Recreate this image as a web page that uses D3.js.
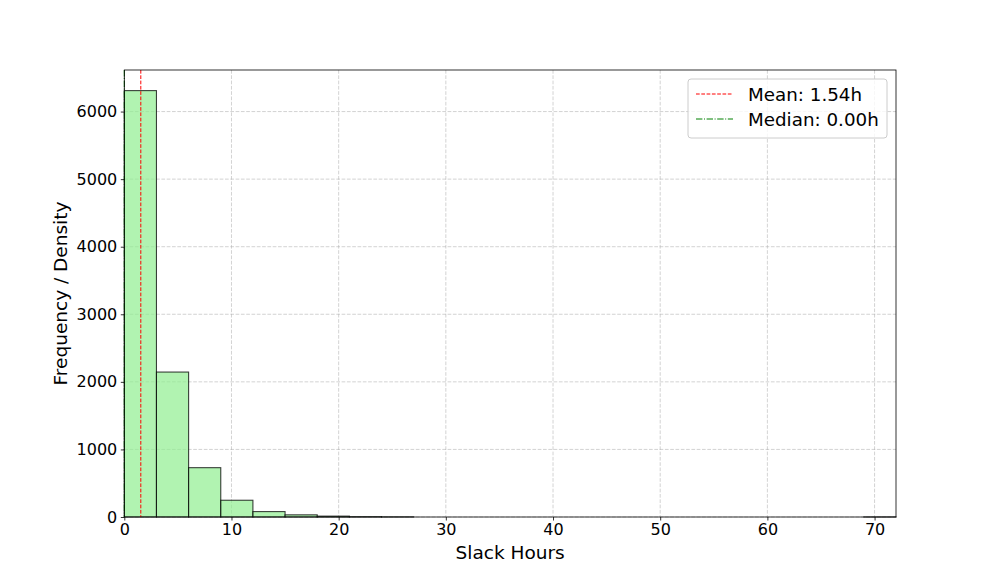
<!DOCTYPE html>
<html><head><meta charset="utf-8">
<script src="https://cdn.jsdelivr.net/npm/d3@7"></script>
<style>body{margin:0;background:#fff;} svg{display:block;font-family:"DejaVu Sans",sans-serif;}</style>
</head><body>
<svg id="c" width="996" height="581"></svg>
<script>
const binEdges = [0,3,6,9,12,15,18,21,24,27,30,33,36,39,42,45,48,51,54,57,60,63,66,69,72];
const counts = [6310,2145,730,248,80,32,13,5,2,0,0,0,0,0,0,0,0,0,0,0,0,0,0,1];
const xTicks = [0,10,20,30,40,50,60,70];
const yTicks = [0,1000,2000,3000,4000,5000,6000];
const meanVal = 1.54, medianVal = 0.0;
const legendLabels = ["Mean: 1.54h","Median: 0.00h"];

const svg = d3.select("#c");
const L=124.3, R=896, T=70, B=517;
const x = d3.scaleLinear().domain([0,72]).range([L,R]);
const y = d3.scaleLinear().domain([0,6615]).range([B,T]);

// grid
const g = svg.append("g");
g.selectAll(".gx").data(xTicks).join("line")
  .attr("x1",d=>x(d)).attr("x2",d=>x(d)).attr("y1",T).attr("y2",B)
  .attr("stroke","#b0b0b0").attr("stroke-opacity",0.7).attr("stroke-dasharray","3.7,1.6").attr("stroke-width",0.8);
g.selectAll(".gy").data(yTicks).join("line")
  .attr("x1",L).attr("x2",R).attr("y1",d=>y(d)).attr("y2",d=>y(d))
  .attr("stroke","#b0b0b0").attr("stroke-opacity",0.7).attr("stroke-dasharray","3.7,1.6").attr("stroke-width",0.8);

// bars
const bins = counts.map((c,i)=>({x0:binEdges[i],x1:binEdges[i+1],c}));
svg.append("g").selectAll("rect").data(bins).join("rect")
  .attr("x",d=>x(d.x0)).attr("width",d=>x(d.x1)-x(d.x0))
  .attr("y",d=>y(d.c)).attr("height",d=>y(0)-y(d.c))
  .attr("fill","#90ee90").attr("fill-opacity",0.7)
  .attr("stroke","#000").attr("stroke-opacity",0.75).attr("stroke-width",1.1);

// lines
svg.append("line").attr("x1",x(meanVal)).attr("x2",x(meanVal)).attr("y1",T).attr("y2",B)
  .attr("stroke","red").attr("stroke-width",1).attr("stroke-dasharray","3.7,1.6");
svg.append("line").attr("x1",x(medianVal)).attr("x2",x(medianVal)).attr("y1",T).attr("y2",B)
  .attr("stroke","green").attr("stroke-width",1).attr("stroke-dasharray","6.4,1.6,1,1.6");

// axes
const xAxis = d3.axisBottom(x).tickValues(xTicks).tickSize(3.5).tickPadding(3.5).tickFormat(d3.format("d"));
const yAxis = d3.axisLeft(y).tickValues(yTicks).tickSize(3.5).tickPadding(3.5).tickFormat(d3.format("d"));
const gx = svg.append("g").attr("transform",`translate(0,${B})`).call(xAxis);
const gy = svg.append("g").attr("transform",`translate(${L},0)`).call(yAxis);
[gx,gy].forEach(a=>{
  a.select(".domain").remove();
  a.selectAll("text").attr("font-size","16px").attr("fill","#000").attr("font-family","DejaVu Sans");
  a.selectAll("line").attr("stroke","#000").attr("stroke-width",0.8);
});
svg.append("rect").attr("x",L).attr("y",T).attr("width",R-L).attr("height",B-T)
  .attr("fill","none").attr("stroke","#000").attr("stroke-width",0.8);

// labels
svg.append("text").attr("x",(L+R)/2).attr("y",559).attr("text-anchor","middle")
  .attr("font-size","18.5px").text("Slack Hours");
svg.append("text").attr("transform",`translate(67,${(T+B)/2}) rotate(-90)`).attr("text-anchor","middle")
  .attr("font-size","18.5px").text("Frequency / Density");

// legend
const lg = svg.append("g");
lg.append("rect").attr("x",688).attr("y",79).attr("width",199).attr("height",59).attr("rx",3)
  .attr("fill","#fff").attr("fill-opacity",0.8).attr("stroke","#cccccc").attr("stroke-width",1);
const styles = [{c:"red",d:"3.7,1.6"},{c:"green",d:"6.4,1.6,1,1.6"}];
legendLabels.forEach((t,i)=>{
  const yy = 94 + i*25;
  lg.append("line").attr("x1",696).attr("x2",733).attr("y1",yy).attr("y2",yy)
    .attr("stroke",styles[i].c).attr("stroke-width",1).attr("stroke-dasharray",styles[i].d);
  lg.append("text").attr("x",748).attr("y",yy+6.5).attr("font-size","18.3px").text(t);
});
</script>
</body></html>
